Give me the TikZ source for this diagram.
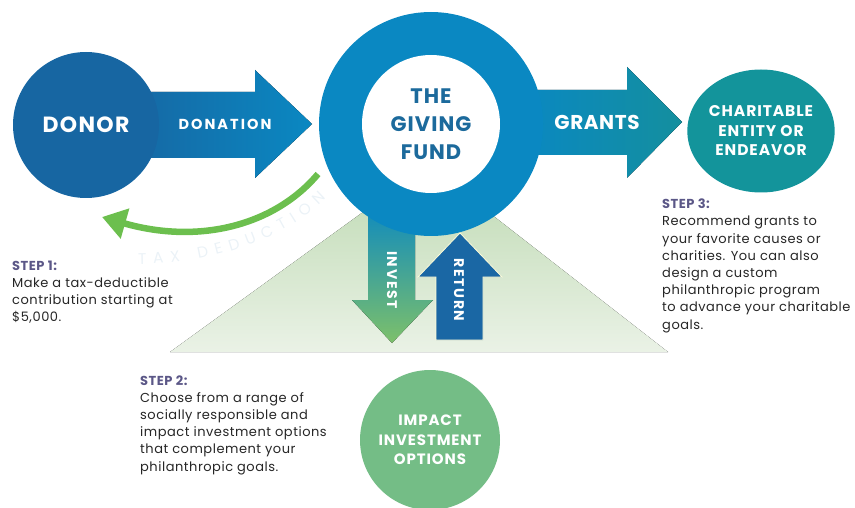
\documentclass[tikz,border=0pt]{standalone}
\usepackage{fontspec}
\setmainfont{Poppins}
\usetikzlibrary{shapes,shapes.geometric,arrows.meta,decorations.text}
\usepackage{xcolor}
\definecolor{donorblue}{HTML}{1766A2}
\definecolor{fundblue}{HTML}{0A88C2}
\definecolor{grantteal}{HTML}{148F9E}
\definecolor{charteal}{HTML}{13949B}
\definecolor{impactgreen}{HTML}{74BD86}
\definecolor{curvegreen}{HTML}{6CBF4E}
\definecolor{investgreen}{HTML}{7DC06A}
\definecolor{returnblue}{HTML}{1A67A4}
\definecolor{steppurple}{HTML}{5B5787}
\definecolor{fundtext}{HTML}{1C6A9C}
\definecolor{trigreen}{HTML}{BDD9B1}
\definecolor{trilight}{HTML}{EAF2E6}
\definecolor{taxfaint}{HTML}{EBF2F7}
\tikzstyle{bigcircle} = [circle, inner sep=0pt, align=center, text=white, font=\bfseries]
\tikzstyle{arrowlabel} = [inner sep=0pt, text=white, font=\bfseries]
\tikzstyle{steptext} = [align=left, anchor=base west, inner sep=0pt, text=black!85, font=\fontsize{13}{17.2}\selectfont\addfontfeature{LetterSpace=4}]
\newcommand{\stephead}[1]{\textcolor{steppurple}{\textbf{#1}}}
\newcommand{\spaced}[1]{\addfontfeature{LetterSpace=#1}}

\begin{document}
\begin{tikzpicture}[x=1pt, y=-1pt]
\clip (0,0) rectangle (855,508);
%
% Background triangle and flow arrows
%
\fill[top color=trigreen, bottom color=trilight] (428,165) -- (668,352) -- (170,352) -- cycle;
\fill[top color=fundblue, bottom color=investgreen] (368,200) -- (415,200) -- (415,300) -- (433,300) -- (392,343) -- (352,300) -- (368,300) -- cycle;
\fill[left color=donorblue, right color=fundblue] (120,92) -- (255,92) -- (255,70) -- (312,124) -- (255,178) -- (255,158) -- (120,158) -- cycle;
\fill[left color=fundblue, right color=grantteal] (520,90) -- (627,90) -- (627,67) -- (682,122) -- (627,178) -- (627,155) -- (520,155) -- cycle;
%
% Define nodes
%
\node (fund) [bigcircle, minimum size=224pt, fill=fundblue] at (431,124) {};
\node (fundcore) [bigcircle, minimum size=138pt, fill=white, text=fundtext, font=\bfseries\fontsize{21}{28}\selectfont\spaced{5}] at (fund.center) {THE\\GIVING\\FUND};
\node (donor) [bigcircle, minimum size=146pt, fill=donorblue, font=\bfseries\fontsize{22}{25}\selectfont\spaced{6}] at (86,125) {DONOR};
\node (charity) [ellipse, inner sep=0pt, align=center, minimum width=142pt, minimum height=123pt, fill=charteal, text=white, font=\bfseries\fontsize{15.5}{19.5}\selectfont\spaced{6}] at (761,131) {CHARITABLE\\ENTITY OR\\ENDEAVOR};
\node (impact) [bigcircle, minimum size=140pt, fill=impactgreen, font=\bfseries\fontsize{15}{19.5}\selectfont\spaced{6}] at (430,440) {IMPACT\\INVESTMENT\\OPTIONS};
\fill[returnblue, draw=white!85!yellow, line width=0.8pt] (436,340) -- (483,340) -- (483,277) -- (502,277) -- (460,233) -- (418,277) -- (436,277) -- cycle;
\node (donation) [arrowlabel, font=\bfseries\fontsize{14.5}{14.5}\selectfont\spaced{14}] at (225,124) {DONATION};
\node (grants) [arrowlabel, font=\bfseries\fontsize{20}{20}\selectfont\spaced{3}] at (597,122) {GRANTS};
\node (invest) [arrowlabel, rotate=-90, font=\bfseries\fontsize{14}{14}\selectfont\spaced{12}] at (392,280) {INVEST};
\node (return) [arrowlabel, rotate=-90, font=\bfseries\fontsize{14}{14}\selectfont\spaced{12}] at (459,290) {RETURN};
%
% Tax deduction curve
%
\coordinate (taxstart) at (318,174);
\coordinate (taxend) at (102,217);
\draw[curvegreen, line width=6.5pt, -{Triangle[length=24pt,width=30pt]}] (taxstart) .. controls (275,225) and (200,245) .. (taxend);
\path[decorate, decoration={text along path, text align=fit to path, text={|\fontsize{15.5}{15.5}\selectfont\color{taxfaint}|TAX DEDUCTION}}] (138,264) .. controls (210,264) and (285,240) .. (326,198);
%
% Step texts
%
\node (step1) [steptext, font=\fontsize{13}{16.8}\selectfont\spaced{4}] at (12,321) {\stephead{STEP 1:}\\Make a tax-deductible\\contribution starting at\\\$5,000.};
\node (step2) [steptext] at (140,471) {\stephead{STEP 2:}\\Choose from a range of\\socially responsible and\\impact investment options\\that complement your\\philanthropic goals.};
\node (step3) [steptext] at (662,329) {\stephead{STEP 3:}\\Recommend grants to\\your favorite causes or\\charities. You can also\\design a custom\\philanthropic program\\to advance your charitable\\goals.};
\end{tikzpicture}
\end{document}
